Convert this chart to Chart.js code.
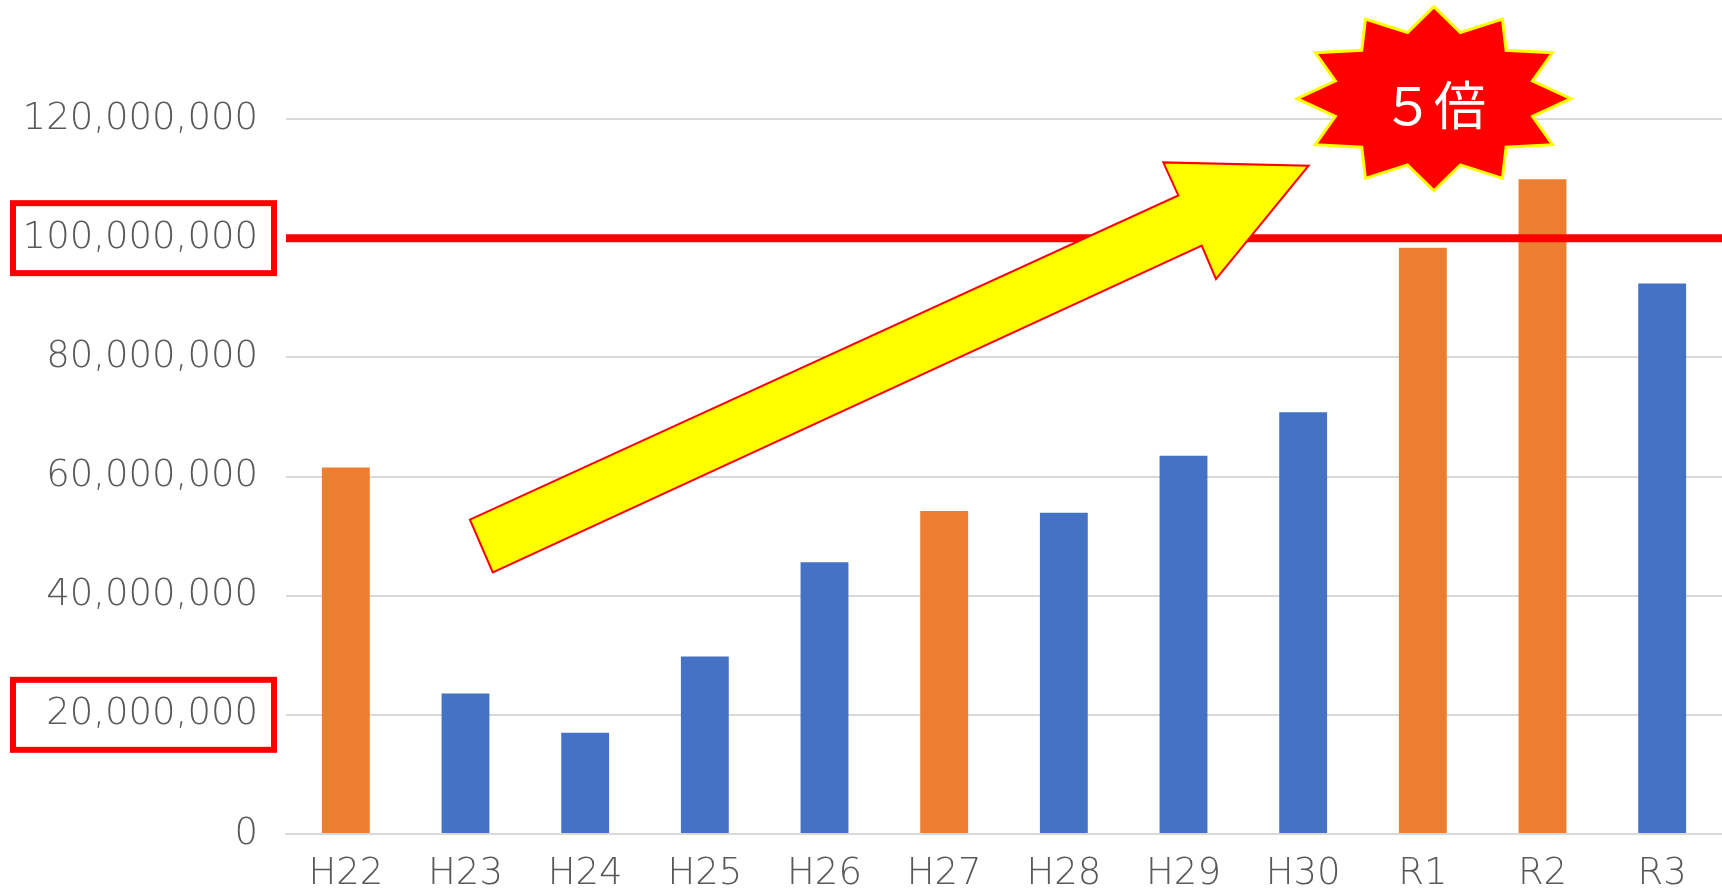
<!DOCTYPE html>
<html>
<head>
<meta charset="utf-8">
<style>
  html, body { margin: 0; padding: 0; background: #fff; }
  canvas { display: block; }
</style>
</head>
<body>
<canvas id="myChart" width="1722" height="888"></canvas>
<script src="https://cdn.jsdelivr.net/npm/chart.js"></script>
<script>
  // data
  const years = ['H22', 'H23', 'H24', 'H25', 'H26', 'H27', 'H28', 'H29', 'H30', 'R1', 'R2', 'R3'];
  const amounts = [61500000, 23600000, 17000000, 29800000, 45600000, 54200000, 53900000, 63500000, 70800000, 98400000, 109900000, 92400000];
  const orangeYears = ['H22', 'H27', 'R1', 'R2'];
  const yTicks = [0, 20000000, 40000000, 60000000, 80000000, 100000000, 120000000];
  const targetLine = 100000000;
  const boxedTicks = [100000000, 20000000];
  const badgeText = '５倍';

  const ORANGE = '#ED7D31';
  const BLUE = '#4472C4';
  const LABEL_FONT = "'DejaVu Sans', sans-serif";

  // arrow outline, as fractions of the plot area (x from left, y from top)
  const arrowShape = [
    [0.1281, 0.5604], [0.6214, 0.1069], [0.6109, 0.0607], [0.7121, 0.0653],
    [0.6476, 0.2238], [0.6377, 0.1772], [0.1440, 0.6341]
  ];

  const extras = {
    id: 'extras',
    afterDatasetsDraw(chart) {
      const { ctx, chartArea: a, scales: { y } } = chart;
      const w = a.right - a.left, h = a.bottom - a.top;
      ctx.save();

      // red target line
      const ly = y.getPixelForValue(targetLine);
      ctx.strokeStyle = '#FF0000';
      ctx.lineWidth = 8;
      ctx.beginPath();
      ctx.moveTo(a.left, ly);
      ctx.lineTo(a.right, ly);
      ctx.stroke();

      // yellow arrow
      ctx.beginPath();
      arrowShape.forEach(([fx, fy], i) => {
        const px = a.left + fx * w, py = a.top + fy * h;
        i ? ctx.lineTo(px, py) : ctx.moveTo(px, py);
      });
      ctx.closePath();
      ctx.fillStyle = '#FFFF00';
      ctx.fill();
      ctx.strokeStyle = '#FF0000';
      ctx.lineWidth = 2;
      ctx.lineJoin = 'miter';
      ctx.stroke();

      // starburst badge
      const cx = a.left + 0.7994 * w, cy = a.top - 0.0284 * h;
      const rx = 0.0954 * w, ry = 0.1287 * h, inner = 0.745;
      ctx.beginPath();
      for (let i = 0; i < 24; i++) {
        const ang = -Math.PI / 2 + i * Math.PI / 12;
        const r = i % 2 ? inner : 1;
        const px = cx + Math.cos(ang) * rx * r, py = cy + Math.sin(ang) * ry * r;
        i ? ctx.lineTo(px, py) : ctx.moveTo(px, py);
      }
      ctx.closePath();
      ctx.fillStyle = '#FF0000';
      ctx.fill();
      ctx.strokeStyle = '#FFFF00';
      ctx.lineWidth = 3;
      ctx.stroke();

      ctx.fillStyle = '#FFFFFF';
      ctx.font = "400 52px 'Noto Sans CJK JP', sans-serif";
      ctx.textAlign = 'center';
      ctx.textBaseline = 'middle';
      ctx.fillText(badgeText, cx, cy + 7);
      ctx.restore();
    },
    afterDraw(chart) {
      const { ctx, scales: { y } } = chart;
      ctx.save();
      ctx.strokeStyle = '#FF0000';
      ctx.lineWidth = 6;
      boxedTicks.forEach(v => {
        const py = y.getPixelForValue(v);
        ctx.strokeRect(13, py - 35, 261, 70);
      });
      ctx.restore();
    }
  };

  const ctx = document.getElementById('myChart').getContext('2d');
  new Chart(ctx, {
    type: 'bar',
    data: {
      labels: years,
      datasets: [{
        data: amounts,
        backgroundColor: years.map(yr => orangeYears.includes(yr) ? ORANGE : BLUE),
        barPercentage: 0.4,
        categoryPercentage: 1.0
      }]
    },
    options: {
      responsive: false,
      animation: false,
      layout: { padding: { top: 119, right: 0, bottom: 0, left: 0 } },
      plugins: { legend: { display: false }, tooltip: { enabled: false } },
      scales: {
        x: {
          afterFit: s => { s.height = 54; },
          grid: { display: false, drawTicks: false },
          border: { color: '#D9D9D9', width: 2 },
          ticks: {
            color: '#595959',
            padding: 22,
            font: { family: LABEL_FONT, size: 37, weight: 200, lineHeight: 1 }
          }
        },
        y: {
          min: 0,
          max: 120000000,
          afterBuildTicks: s => { s.ticks = yTicks.map(v => ({ value: v })); },
          afterFit: s => { s.width = 286; },
          grid: { color: '#D9D9D9', lineWidth: 2, drawTicks: false },
          border: { display: false },
          ticks: {
            color: '#595959',
            padding: 28,
            font: { family: LABEL_FONT, size: 37, weight: 200 },
            callback: v => Number(v).toLocaleString('en-US')
          }
        }
      }
    },
    plugins: [extras]
  });
</script>
</body>
</html>
